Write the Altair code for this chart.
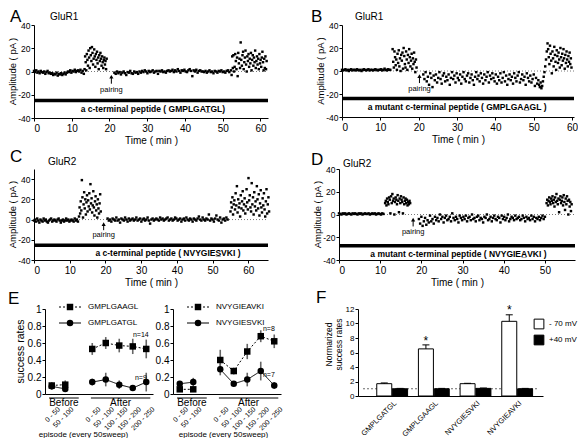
import altair as alt
import pandas as pd

FONT = "Liberation Sans"

# ---------------- Panels A-D : amplitude time courses ----------------
# each trace = consecutive segments (start time, sweep interval, amplitudes)
A_t0 = [0.0, 13.4, 21.3, 52.2]
A_dt = [0.3, 0.15, 0.35, 0.16]
A_amp = [
    [0.5, -0.5, 1, -1, 0, -1.5, 0.5, -0.5, -1, 0, -2, -0.5, 0.5, -1.5, -1,
     -2, -1.5, -3, -2, -2.5, -1, -3.5, -2, -2.5, -1.5, -3, -2, -1, -2.5,
     -1, 0, -0.5, 1, -1, 0.5, 0, 1.5, -0.5, 0.5, 1, 0, 1.5, -1, 0.5, -2],
    [2, 13, 8, 1, 15, 10, 5, 18, 12, 3, 20, 14, 9, 21, 16, 6, 11, 19, 13, 4,
     15, 10, 17, 7, 12, 2, 14, 9, 16, 11, 5, 13, 8, 3, 10, 12, 6, 9, 2, 11],
    [-1, -2, 0, -1.5, -0.5, -2.5, -1, 0, -1.5, -3, -0.5, -1, 0.5, -1.5, -2, 0, -1, -0.5, -2,
     0, -1, 0.5, -0.5, 1, 0, -1.5, 0.5, -0.5, 0, 1, -1, 0, 0.5, -2, 0.5, 0, 1, -0.5, 0, -1, 0.5,
     1, 0, 0.5, 1.5, -0.5, 1, 0, 2, 0.5, -1, 1, 0.5, 1.5, 0, -0.5, 1, 2, 0.5, -4, 1, 0, 1.5, -1, 0.5, 1, 0,
     0, -0.5, 0.5, -1, 0, 1, -0.5, 0, -1.5, 0.5, 0, -1, 0.5, 0, 1, -0.5, 0, -1, 0.5, 1, -0.5],
    [1, -3, 13, 3, 14, 0, 4, 15, 9, 2, 12, -4, 16, 7, 11, 3, 25, 10, 5, 14,
     17, 2, 8, 12, 18, 6, 0, 13, 9, 15, 4, 11, 7, 16, 1, 10, 14, 5, 12, 8,
     18, 3, 9, 13, 6, 11, 2, 15, 7, 10, 4, 12, 17, 8, 1, 11, 3, 13, 2, 9],
]
A_pairing = 20.5

B_t0 = [0.0, 13.2, 21.2, 51.2, 53.6]
B_dt = [0.3, 0.16, 0.3, 0.2, 0.16]
B_amp = [
    [1, 0.5, 1, 1.5, 0.5, 1, 0, 1, 1.5, 0.5, 1, 1, 0.5, 1.5, 1, 0.5, 1, 0, 1, 1.5,
     1, 0.5, 1, 1.5, 0.5, 1, 1, 0.5, 1, 1.5, 1, 0.5, 1, 1, 1.5, 0.5, 1, 2, 1, 0.5, 1.5, 1, 1],
    [19, 8, 3, 17, 12, 5, 10, 1, 15, 7, 18, 4, 11, 0, 14, 9, 16, 2, 20, 13,
     6, 3, 17, 10, 1, 14, 7, 19, 12, 4, 9, 15, 2, 11, 6, 16, 8, -1, 10, 3],
    [-3, -7, -1, -9, -5, -12, -2, -6, -14, -4, -8, -3, -10, -6, -1, -7, -11, -4, -2, -9, -5, -8, -3, -12, -6, -1, -7, -4, -10, -2, -6,
     -8, -3, -11, -5, -1, -7, -9, -4, -2, -10, -6, -3, -8, -12, -5, -1, -7, -4, -9, -2, -6, -11, -3, -8, -5, -1, -10, -4, -7, -2, -6, -9, -3,
     -11, -5, -8, -2, -10, -6, -1, -9, -4, -12, -7, -3, -8, -5, -11, -2, -6, -9, -4, -1, -10, -7, -3, -8, -5, -12, -2, -6, -9, -4, -10, -7, -3, -13, -6, -11],
    [-8, -12, -14, -10, -15, -13, -9, -5, -1, 4, 10, 17],
    [24, 19, 12, 6, 22, 15, 9, -2, 17, 11, 4, 21, 14, 8, 1, 18, 13, 7, 16, 10,
     3, 20, 12, 5, 15, 9, 19, 11, 2, 14, 7, 17, 10, 4, 13, 8, 16, 6, 11, 3],
]
B_pairing = 20.2

C_t0 = [0.0, 12.6, 20.6, 55.0]
C_dt = [0.3, 0.16, 0.35, 0.18]
C_amp = [
    [-1, 0, -2, 1, -1, -3, 0, -1, -2, 1, -1, 0, -2, -3, -1, 0, 1, -2, -1, 0,
     -1, -2, 0, 1, -1, -3, -1, 0, -2, -1, 1, -1, 0, -2, -1, 0, -1, -2, 1, -1, 0, -2],
    [3, 12, 6, 18, 9, 39, 22, 2, 15, 27, 11, 20, 5, 17, 24, 8, 19, 13, 26, 10,
     35, 16, 21, 7, 14, 28, 12, 4, 18, 23, 9, 15, 2, 20, 11, 6, 16, 25, 8],
    [1, -1, 0, -2, 1, 0, -1, 2, -1, 0, -3, 1, 0, -1, 2, 0, -2, 1, -1, 0,
     1, -1, 0, 2, -1, 0, 1, -2, 0, 1, -1, 0, 2, -1, -4, 0, 1, -1, 0, 1,
     0, -1, 2, 0, 1, -1, 0, 1, 2, -1, 0, 1, -1, 0, 2, 1, -1, 0, 1, -2,
     0, 1, -1, 2, 0, -1, 1, 0, -2, 1, 0, -1, 1, 3, 0, -1, 2, 0, -1, 1,
     0, 5, -1, 1, 0, -2, 1, 4, 0, -1, 2, -3, 0, 1, -1, 2, 0],
    [8, 17, 12, 22, 5, 15, 19, 10, 26, 14, 33, 7, 20, 12, 16, 3, 24, 11, 18, 28,
     9, 15, 21, 6, 13, 30, 17, 10, 41, 19, 24, 12, 8, 36, 15, 22, 5, 27, 13, 18,
     9, 33, 20, 11, 25, 4, 16, 29, 12, 7, 21, 14, 26, 10, 3, 18, 30, 6, 15, 22, 8],
]
C_pairing = 19.5

D_t0 = [0.0, 11.2, 19.4, 50.4]
D_dt = [0.3, 0.16, 0.3, 0.16]
D_amp = [
    [1, 0.5, 0, 1, 0.5, 1, 0, 0.5, 1, 0.5, 0, 1, 0.5, 1, 0.5, 0, 1, 0.5, 1, 0,
     0.5, 1, 0.5, 0.5, 1, 0, 0.5, 1, 0.5, 1, 0, 0.5, 1, 0.5, 0, 1, 0.5],
    [10, 12, 8, 14, 11, 9, 15, 13, 1, 16, 10, 18, 12, 14, 0, 11, 15, 13, 9, 17,
     12, 2, 14, 10, 16, 13, 11, 1, 15, 9, 12, 14, 10, 13, 8, 11, 9, 12, 10],
    [-4, -8, -2, -10, -6, -3, -9, -5, -7, -1, -6, -4, -8, -2, -5,
     -3, -6, 0, -4, -2, -7, -3, -1, -5, -4, -2, -6, 1, -3, -5, -2, -4, -7, -1, -3, -5, -2,
     -4, -1, -6, -3, -2, -5, 0, -4, -3, -6, -2, -1, -5, -3, -4, -7, -2, -3, 0, -5, -4, -2,
     -6, -3, -1, -4, -5, -2, -3, -7, -1, -4, -2, -5, -3, 0, -6, -4, -2, -3, -5, -1, -4, -3,
     -2, -5, -4, -1, -3, -6, -2, -4, -3, -5, -1, -4, -2, -6, -3, -4, -2, -5, -3, -1, -4, -2],
    [10, 13, 8, 12, 15, 11, 9, 14, 12, 16, 10, 13, 7, 15, 11, 18, 12, 9, 14, 2,
     13, 16, 10, 12, 15, 8, 17, 11, 4, 14, 9, 16, 12, 0, 13, 7, 11, 3, 9],
]
D_pairing = 18.0

peptides = [
    "a c-terminal peptide ( GMPLGAT\u0332GL)",
    "a mutant c-terminal peptide ( GMPLGAA\u0332GL )",
    "a c-terminal peptide ( NVYGIES\u0332VKI )",
    "a mutant c-terminal peptide ( NVYGIEA\u0332VKI )",
]

# ---------------- Panel E : success rates ----------------
E_cats = ["0 - 50", "50 - 100", "0 - 50", "50 - 100", "100 - 150", "150 - 200", "200 - 250"]
E_phase = ["Before", "Before", "After", "After", "After", "After", "After"]
E1_names = ["GMPLGAAGL", "GMPLGATGL"]
E1_sq = [0.10, 0.11, 0.53, 0.60, 0.57, 0.56, 0.53]
E1_sq_err = [0.04, 0.05, 0.07, 0.07, 0.08, 0.09, 0.11]
E1_ci = [0.09, 0.06, 0.14, 0.17, 0.11, 0.07, 0.14]
E1_ci_err = [0.04, 0.03, 0.04, 0.08, 0.05, 0.02, 0.11]
E1_n = ["n=14", "n=9"]
E1_n_y = [0.69, 0.19]
E2_names = ["NVYGIEAVKI", "NVYGIESVKI"]
E2_sq = [0.055, 0.055, 0.40, 0.27, 0.50, 0.68, 0.62]
E2_sq_err = [0.02, 0.03, 0.12, 0.04, 0.09, 0.07, 0.08]
E2_ci = [0.12, 0.14, 0.29, 0.12, 0.17, 0.27, 0.10]
E2_ci_err = [0.03, 0.05, 0.07, 0.03, 0.08, 0.11, 0.04]
E2_n = ["n=8", "n=7"]
E2_n_y = [0.76, 0.22]

# ---------------- Panel F : normalized success rates ----------------
F_cats = ["GMPLGATGL", "GMPLGAAGL", "NVYGIESVKI", "NVYGIEAVKI"]
F_conds = ["- 70 mV", "+40 mV"]
F_neg70 = [1.7, 6.5, 1.7, 10.3]
F_neg70_err = [0.1, 0.55, 0.05, 0.9]
F_pos40 = [1.0, 1.0, 1.05, 1.0]
F_pos40_err = [0.05, 0.05, 0.05, 0.05]
F_sig = [False, True, False, True]


def minus_fix():
    return "replace(datum.label, '\u2212', '-')"


def one_row():
    return pd.DataFrame({"k": [0]})


def text_at(txt, x, y, size, align="left", baseline="middle", angle=0, weight="normal"):
    kw = dict(fontSize=size, align=align, baseline=baseline, fontWeight=weight, color="black")
    if angle:
        kw["angle"] = angle
    return alt.Chart(one_row()).mark_text(**kw).encode(
        x=alt.value(x), y=alt.value(y), text=alt.value(txt))


def frame(left, top, bottom):
    # invisible guide that fixes the panel's outer extent for the grid layout
    return alt.Chart(one_row()).mark_rule(strokeOpacity=0, opacity=0).encode(
        x=alt.value(left), x2=alt.value(left), y=alt.value(top), y2=alt.value(bottom))


def trace_df(t0s, dts, amps):
    rows = []
    for t0, dt, vals in zip(t0s, dts, amps):
        for i, v in enumerate(vals):
            rows.append({"t": round(t0 + i * dt, 3), "amp": v})
    return pd.DataFrame(rows)


def trace_panel(df, xmax, ydom, w, h, pair_t, bar_y, pep, pep_x, pep_y,
                letter, lpos, glur, gpos, fr):
    xs = alt.Scale(domain=[0, xmax], nice=False, zero=False)
    ys = alt.Scale(domain=ydom, nice=False, zero=False)
    xticks = [v for v in [0, 10, 20, 30, 40, 50, 60] if v <= xmax]
    xax = alt.Axis(values=xticks, title="Time ( min )", labelFontSize=10,
                   titleFontSize=10, titlePadding=2, labelPadding=2)
    yax = alt.Axis(values=[-40, -20, 0, 20, 40], title=None, labelFontSize=8.5,
                   labelPadding=1, labelExpr=minus_fix())

    def X(f):
        return alt.X(f, type="quantitative", scale=xs, axis=xax)

    def Y(f):
        return alt.Y(f, type="quantitative", scale=ys, axis=yax)

    info = pd.DataFrame({
        "x0": [0.0], "x1": [xmax], "zero": [0.0], "bar": [bar_y],
        "pt": [pair_t], "a_lo": [-10.5], "a_hi": [-4.5], "lab_y": [-15.5],
        "pep": [pep], "pep_x": [pep_x], "pep_y": [pep_y],
    })
    zero = alt.Chart(info).mark_rule(color="#555", strokeDash=[1, 2], strokeWidth=0.8).encode(
        x=X("x0"), x2="x1", y=Y("zero"))
    pts = alt.Chart(df).mark_square(size=6, color="black", opacity=1).encode(
        x=X("t"), y=Y("amp"))
    bar = alt.Chart(info).mark_rule(color="black", strokeWidth=3.5).encode(
        x=X("x0"), x2="x1", y=Y("bar"))
    pep_t = alt.Chart(info).mark_text(fontSize=8.5, fontWeight="bold", baseline="middle",
                                      color="black").encode(
        x=X("pep_x"), y=Y("pep_y"), text="pep:N")
    a_line = alt.Chart(info).mark_rule(color="black", strokeWidth=1).encode(
        x=X("pt"), y=Y("a_lo"), y2="a_hi")
    a_head = alt.Chart(info).mark_point(shape="triangle-up", filled=True, color="black",
                                        size=18, opacity=1).encode(x=X("pt"), y=Y("a_hi"))
    pair_lbl = alt.Chart(info).mark_text(fontSize=7.5, baseline="middle", color="black").encode(
        x=X("pt"), y=Y("lab_y"), text=alt.value("pairing"))
    ytitle = text_at("Amplitude ( pA )", -21, h / 2, 9.5, align="center", angle=270)
    letter_t = text_at(letter, lpos[0], lpos[1], 17, baseline="top")
    glur_t = text_at(glur, gpos[0], gpos[1], 10)
    return alt.layer(zero, pts, bar, pep_t, a_line, a_head, pair_lbl, ytitle, letter_t, glur_t,
                     frame(*fr)).properties(width=w, height=h)


def episode_panel(names, sq, sq_err, ci, ci_err, n_text, n_y, w, h, ytitle, letter, title_x):
    pos = [i + (1 if ph == "After" else 0) for i, ph in enumerate(E_phase)]
    rows = []
    for name, vals, errs in ((names[0], sq, sq_err), (names[1], ci, ci_err)):
        for p, ph, v, e in zip(pos, E_phase, vals, errs):
            rows.append({"pos": p, "phase": ph, "series": name, "v": v,
                         "lo": v - e, "hi": v + e})
    df = pd.DataFrame(rows)
    xs = alt.Scale(domain=[-0.5, 7.5], nice=False, zero=False)
    ys = alt.Scale(domain=[0, 1], nice=False, zero=False)
    expr = "''"
    for p, c in zip(reversed(pos), reversed(E_cats)):
        expr = f"datum.value == {p} ? '{c}' : ({expr})"
    xax = alt.Axis(values=pos, labelExpr=expr, labelAngle=-45, labelFontSize=7,
                   ticks=False, labelPadding=11, labelOffset=4, labelOverlap=False,
                   labelBound=False, labelFlush=False,
                   title="episode (every 50sweep)", titleFontSize=8, titleX=title_x,
                   titleY=40, titleBaseline="middle", titleAlign="center")
    yax = alt.Axis(values=[0, 0.2, 0.4, 0.6, 0.8, 1], format="~g", labelFontSize=10,
                   labelPadding=1, title=None)

    def X(f):
        return alt.X(f, type="quantitative", scale=xs, axis=xax)

    def Y(f):
        return alt.Y(f, type="quantitative", scale=ys, axis=yax)

    dash = alt.StrokeDash("series:N", scale=alt.Scale(domain=names, range=[[2, 2], [1, 0]]), legend=None)
    shape = alt.Shape("series:N", scale=alt.Scale(domain=names, range=["square", "circle"]), legend=None)
    err = alt.Chart(df).mark_rule(color="#666", strokeWidth=1.6).encode(x=X("pos"), y=Y("lo"), y2="hi")
    lines = alt.Chart(df).mark_line(color="black", strokeWidth=1).encode(
        x=X("pos"), y=Y("v"), strokeDash=dash, detail="phase:N")
    pts = alt.Chart(df).mark_point(filled=True, color="black", size=42, opacity=1).encode(
        x=X("pos"), y=Y("v"), shape=shape)

    groups = pd.DataFrame({"g": ["Before", "After"], "s": [-0.2, 2.9], "e": [2.0, 7.3],
                           "m": [0.9, 5.1]})
    g_line = alt.Chart(groups).mark_rule(color="black", strokeWidth=1).encode(
        x=X("s"), x2="e", y=alt.value(h + 4))
    g_text = alt.Chart(groups).mark_text(fontSize=10, baseline="middle", color="black").encode(
        x=X("m"), y=alt.value(h + 9), text="g:N")

    ndf = pd.DataFrame({"t": n_text, "y": n_y, "x": [6.6, 6.6]})
    n_t = alt.Chart(ndf).mark_text(fontSize=7, baseline="middle", color="black").encode(
        x=X("x"), y=Y("y"), text="t:N")

    layers = [err, lines, pts, g_line, g_text, n_t]
    leg = pd.DataFrame({"name": names})
    for k, (nm, dsh, shp) in enumerate(zip(names, [[2, 2], [1, 0]], ["square", "circle"])):
        yy = -2 + 16 * k
        one = leg[leg["name"] == nm]
        layers.append(alt.Chart(one).mark_rule(color="black", strokeWidth=1, strokeDash=dsh).encode(
            x=alt.value(14), x2=alt.value(36), y=alt.value(yy)))
        layers.append(alt.Chart(one).mark_point(shape=shp, filled=True, color="black", size=42,
                                                opacity=1).encode(x=alt.value(25), y=alt.value(yy)))
        layers.append(alt.Chart(one).mark_text(fontSize=8, align="left", baseline="middle",
                                               color="black").encode(
            x=alt.value(43), y=alt.value(yy), text="name:N"))
    if ytitle:
        layers.append(text_at(ytitle, -24, h / 2, 10.5, align="center", angle=270))
    if letter:
        layers.append(text_at(letter, -37, -18, 17, baseline="top"))
        layers.append(frame(-37, -20, 0))
    return alt.layer(*layers).properties(width=w, height=h)


def f_panel(w, h):
    rows = []
    for i, c in enumerate(F_cats):
        rows.append({"idx": i, "cat": c, "cond": F_conds[0], "v": F_neg70[i], "e": F_neg70_err[i],
                     "star": "*" if F_sig[i] else ""})
        rows.append({"idx": i, "cat": c, "cond": F_conds[1], "v": F_pos40[i], "e": F_pos40_err[i],
                     "star": ""})
    df = pd.DataFrame(rows)
    xs = alt.Scale(domain=[-0.7, 3.5], nice=False, zero=False)
    ys = alt.Scale(domain=[0, 12], nice=False, zero=False)
    expr = "''"
    for i, c in reversed(list(enumerate(F_cats))):
        expr = f"datum.value == {i} ? '{c}' : ({expr})"
    xax = alt.Axis(values=list(range(len(F_cats))), labelExpr=expr, labelAngle=-45,
                   labelFontSize=7.5, ticks=False, labelPadding=3, labelOverlap=False,
                   labelBound=False, labelFlush=False, title=None)
    yax = alt.Axis(values=[0, 2, 4, 6, 8, 10, 12], labelFontSize=8, labelPadding=1, title=None)

    def X(f):
        return alt.X(f, type="quantitative", scale=xs, axis=xax)

    def Y(f):
        return alt.Y(f, type="quantitative", scale=ys, axis=yax)

    base = alt.Chart(df).transform_calculate(
        xc=f"datum.idx + (datum.cond == '{F_conds[0]}' ? -0.19 : 0.19)",
        top="datum.v + datum.e",
        sy="datum.v + datum.e + 0.6",
    )
    ref = pd.DataFrame({"a": [-0.7], "b": [3.5], "one": [1.0]})
    ref_line = alt.Chart(ref).mark_rule(color="#444", strokeDash=[2, 2], strokeWidth=0.8).encode(
        x=X("a"), x2="b", y=Y("one"))
    fill = alt.Fill("cond:N", scale=alt.Scale(domain=F_conds, range=["white", "black"]), legend=None)
    bars = base.mark_bar(width=15, stroke="black", strokeWidth=1).encode(
        x=X("xc:Q"), y=Y("v:Q"), y2=alt.datum(0), fill=fill)
    err = base.mark_rule(color="black", strokeWidth=1).encode(x=X("xc:Q"), y=Y("v:Q"), y2="top:Q")
    cap = base.mark_tick(orient="horizontal", size=7, thickness=1, color="black", opacity=1).encode(
        x=X("xc:Q"), y=Y("top:Q"))
    star = base.mark_text(fontSize=12, baseline="middle", color="black").encode(
        x=X("xc:Q"), y=Y("sy:Q"), text="star:N")

    layers = [ref_line, bars, err, cap, star]
    leg = pd.DataFrame({"name": F_conds})
    for k, (nm, fc) in enumerate(zip(F_conds, ["white", "black"])):
        yy = 15 + 16 * k
        one = leg[leg["name"] == nm]
        layers.append(alt.Chart(one).mark_square(size=95, fill=fc, stroke="black", strokeWidth=1,
                                                 opacity=1).encode(x=alt.value(181), y=alt.value(yy)))
        layers.append(alt.Chart(one).mark_text(fontSize=8, align="left", baseline="middle",
                                               color="black").encode(
            x=alt.value(191), y=alt.value(yy), text="name:N"))
    layers.append(text_at("Normarized", -29, h / 2 - 8, 8.5, align="center", angle=270))
    layers.append(text_at("success rates", -19.5, h / 2 - 8, 8.5, align="center", angle=270))
    layers.append(text_at("F", -42, -19, 17, baseline="top"))
    layers.append(frame(0, -20, 0))
    return alt.layer(*layers).properties(width=w, height=h)


def spacer(w, h=1):
    return alt.Chart(pd.DataFrame({"v": [0]})).mark_point(opacity=0).encode(
        x=alt.X("v:Q", axis=None), y=alt.Y("v:Q", axis=None)).properties(width=w, height=h)


pA = trace_panel(trace_df(A_t0, A_dt, A_amp), 62, [-40, 40], 234, 93, A_pairing, -25,
                 peptides[0], 31.5, -32, "A", (-24, -16), "GluR1", (16, -8), (-26, -16, 134))
pB = trace_panel(trace_df(B_t0, B_dt, B_amp), 60.5, [-40, 40], 232, 92, B_pairing, -24,
                 peptides[1], 30, -31, "B", (-31, -16), "GluR1", (13, -8), (0, -16, 134))
pC = trace_panel(trace_df(C_t0, C_dt, C_amp), 65.5, [-40, 50], 234, 91, C_pairing, -25.5,
                 peptides[2], 37.5, -33, "C", (-24, -20), "GluR2", (14, -7), (-26, -24, 134))
pD = trace_panel(trace_df(D_t0, D_dt, D_amp), 57.3, [-40, 40], 236, 91, D_pairing, -27.5,
                 peptides[3], 29, -34.5, "D", (-28, -17), "GluR2", (4, -5), (0, -24, 134))
pE1 = episode_panel(E1_names, E1_sq, E1_sq_err, E1_ci, E1_ci_err, E1_n, E1_n_y, 108, 85,
                    "success rates", "E", 38)
pE2 = episode_panel(E2_names, E2_sq, E2_sq_err, E2_ci, E2_ci_err, E2_n, E2_n_y, 108, 85,
                    "", "", 50)
pF = f_panel(185, 87)

row1 = alt.hconcat(pA, pB, spacing=74, bounds="flush")
row2 = alt.hconcat(pC, pD, spacing=71, bounds="flush")
row3 = alt.hconcat(spacer(6), pE1, spacer(10), pE2, spacer(67), pF, spacing=5, bounds="flush")

chart = alt.vconcat(row1, row2, row3, spacing=-14).properties(
    padding={"left": 0, "top": 0, "right": 0, "bottom": 0}
).configure(
    font=FONT
).configure_view(
    strokeWidth=0
).configure_axis(
    grid=False, domainColor="black", tickColor="black", labelColor="black",
    titleColor="black", titleFontWeight="normal", tickSize=3, domainWidth=1,
    labelFont=FONT, titleFont=FONT
).configure_text(
    font=FONT, color="black"
)

chart.save("out.html", embed_options={"renderer": "svg", "actions": False})
